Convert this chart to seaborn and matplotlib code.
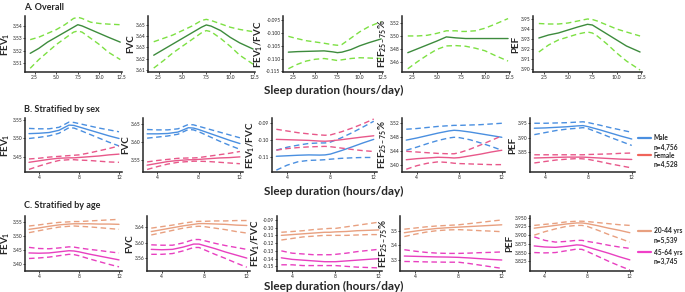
import numpy as np
import pandas as pd
import seaborn as sns
from matplotlib import pyplot as plt

# sleep duration grids (hours/day)
SLEEP_A = [2, 3, 4, 5, 6, 7, 7.5, 8, 9, 10, 11, 12.4]
SLEEP_BC = [3, 4, 5, 6, 7, 7.5, 8, 9, 10, 11, 12]

# ---- A. Overall : [mean, lower, upper]
A_FEV1 = [[3.518, 3.522, 3.527, 3.531, 3.535, 3.539, 3.541, 3.540, 3.537, 3.534, 3.531, 3.527],
          [3.506, 3.513, 3.519, 3.525, 3.530, 3.535, 3.536, 3.535, 3.530, 3.525, 3.519, 3.513],
          [3.529, 3.531, 3.534, 3.537, 3.541, 3.546, 3.547, 3.546, 3.543, 3.542, 3.5415, 3.541]]
A_FVC = [[3.623, 3.628, 3.633, 3.638, 3.643, 3.648, 3.650, 3.649, 3.645, 3.639, 3.634, 3.6285],
         [3.6115, 3.618, 3.625, 3.631, 3.637, 3.643, 3.645, 3.644, 3.638, 3.631, 3.623, 3.615],
         [3.635, 3.638, 3.641, 3.645, 3.649, 3.654, 3.655, 3.654, 3.651, 3.648, 3.646, 3.644]]
A_RATIO = [[-0.1075, -0.1073, -0.1072, -0.1071, -0.1070, -0.1074, -0.1077, -0.1075, -0.1065, -0.1050, -0.1038, -0.1023],
           [-0.1140, -0.1123, -0.1110, -0.1103, -0.1100, -0.1105, -0.1108, -0.1105, -0.1100, -0.1097, -0.1098, -0.1100],
           [-0.1013, -0.1022, -0.1030, -0.1035, -0.1040, -0.1046, -0.1048, -0.1045, -0.1020, -0.0995, -0.0975, -0.0955]]
A_FEF = [[3.474, 3.480, 3.486, 3.492, 3.4985, 3.497, 3.4965, 3.496, 3.496, 3.496, 3.496, 3.496],
         [3.449, 3.460, 3.470, 3.479, 3.4845, 3.485, 3.4845, 3.484, 3.481, 3.477, 3.470, 3.461],
         [3.500, 3.500, 3.501, 3.504, 3.508, 3.508, 3.507, 3.507, 3.508, 3.512, 3.518, 3.527]]
A_PEF = [[3.931, 3.934, 3.936, 3.939, 3.942, 3.9447, 3.944, 3.941, 3.935, 3.929, 3.923, 3.917],
         [3.917, 3.924, 3.929, 3.932, 3.935, 3.937, 3.936, 3.933, 3.925, 3.916, 3.908, 3.899],
         [3.9455, 3.945, 3.945, 3.946, 3.948, 3.950, 3.9495, 3.948, 3.944, 3.940, 3.937, 3.933]]

# ---- B. Stratified by sex
MALE_FEV1 = [[3.513, 3.514, 3.516, 3.522, 3.536, 3.535, 3.531, 3.523, 3.515, 3.507, 3.500],
             [3.500, 3.503, 3.507, 3.514, 3.529, 3.528, 3.523, 3.512, 3.501, 3.490, 3.480],
             [3.527, 3.526, 3.526, 3.530, 3.544, 3.543, 3.540, 3.534, 3.528, 3.523, 3.518]]
FEMALE_FEV1 = [[3.436, 3.440, 3.444, 3.447, 3.448, 3.448, 3.449, 3.451, 3.453, 3.456, 3.458],
               [3.417, 3.426, 3.434, 3.441, 3.443, 3.443, 3.442, 3.441, 3.439, 3.437, 3.436],
               [3.445, 3.447, 3.450, 3.452, 3.454, 3.455, 3.456, 3.461, 3.467, 3.473, 3.480]]
MALE_FVC = [[3.624, 3.624, 3.625, 3.629, 3.641, 3.640, 3.636, 3.626, 3.616, 3.606, 3.597],
            [3.612, 3.615, 3.618, 3.623, 3.636, 3.635, 3.630, 3.617, 3.604, 3.592, 3.581],
            [3.636, 3.635, 3.635, 3.638, 3.650, 3.649, 3.645, 3.637, 3.629, 3.621, 3.613]]
FEMALE_FVC = [[3.537, 3.542, 3.547, 3.550, 3.552, 3.552, 3.553, 3.555, 3.557, 3.558, 3.560],
              [3.525, 3.533, 3.540, 3.545, 3.547, 3.548, 3.548, 3.547, 3.545, 3.543, 3.541],
              [3.546, 3.550, 3.553, 3.556, 3.557, 3.557, 3.558, 3.562, 3.566, 3.570, 3.575]]
MALE_RATIO = [[-0.1093, -0.1090, -0.1087, -0.1085, -0.1086, -0.1085, -0.1080, -0.1060, -0.1038, -0.1015, -0.0994],
              [-0.1174, -0.1145, -0.1125, -0.1117, -0.1115, -0.1113, -0.1110, -0.1105, -0.1102, -0.1100, -0.1100],
              [-0.1057, -0.1040, -0.1028, -0.1018, -0.1015, -0.1015, -0.1010, -0.0985, -0.0955, -0.0922, -0.0888]]
FEMALE_RATIO = [[-0.0994, -0.0996, -0.0998, -0.1000, -0.1004, -0.1005, -0.1003, -0.0996, -0.0988, -0.0980, -0.0973],
                [-0.1057, -0.1048, -0.1042, -0.1038, -0.1036, -0.1035, -0.1037, -0.1045, -0.1053, -0.1060, -0.1065],
                [-0.0935, -0.0945, -0.0955, -0.0962, -0.0968, -0.0970, -0.0968, -0.0950, -0.0928, -0.0903, -0.0875]]
MALE_FEF = [[3.472, 3.478, 3.485, 3.492, 3.498, 3.500, 3.499, 3.495, 3.490, 3.485, 3.480],
            [3.443, 3.452, 3.462, 3.471, 3.478, 3.480, 3.479, 3.473, 3.464, 3.454, 3.443],
            [3.503, 3.505, 3.508, 3.511, 3.513, 3.514, 3.514, 3.515, 3.516, 3.518, 3.520]]
FEMALE_FEF = [[3.416, 3.419, 3.421, 3.423, 3.422, 3.421, 3.422, 3.427, 3.432, 3.438, 3.443],
              [3.389, 3.399, 3.406, 3.410, 3.408, 3.406, 3.405, 3.404, 3.403, 3.402, 3.402],
              [3.440, 3.438, 3.436, 3.434, 3.433, 3.433, 3.436, 3.446, 3.458, 3.471, 3.484]]
MALE_PEF = [[3.933, 3.934, 3.936, 3.938, 3.941, 3.942, 3.938, 3.928, 3.917, 3.906, 3.896],
            [3.911, 3.918, 3.925, 3.930, 3.933, 3.935, 3.931, 3.917, 3.902, 3.888, 3.874],
            [3.950, 3.950, 3.951, 3.952, 3.954, 3.955, 3.952, 3.944, 3.935, 3.927, 3.919]]
FEMALE_PEF = [[3.831, 3.832, 3.833, 3.834, 3.834, 3.834, 3.833, 3.831, 3.829, 3.827, 3.826],
              [3.814, 3.819, 3.824, 3.827, 3.829, 3.828, 3.826, 3.819, 3.811, 3.804, 3.797],
              [3.842, 3.842, 3.842, 3.842, 3.842, 3.842, 3.843, 3.844, 3.845, 3.847, 3.848]]

# ---- C. Stratified by age
YOUNG_FEV1 = [[3.525, 3.530, 3.536, 3.541, 3.544, 3.545, 3.545, 3.545, 3.544, 3.544, 3.543],
              [3.513, 3.520, 3.527, 3.533, 3.536, 3.537, 3.536, 3.534, 3.531, 3.528, 3.525],
              [3.537, 3.541, 3.546, 3.550, 3.552, 3.553, 3.553, 3.555, 3.557, 3.559, 3.561]]
OLD_FEV1 = [[3.440, 3.439, 3.440, 3.444, 3.448, 3.447, 3.444, 3.436, 3.429, 3.422, 3.415],
            [3.420, 3.422, 3.425, 3.430, 3.435, 3.434, 3.430, 3.419, 3.409, 3.399, 3.390],
            [3.460, 3.456, 3.455, 3.458, 3.462, 3.461, 3.458, 3.453, 3.449, 3.444, 3.440]]
YOUNG_FVC = [[3.629, 3.634, 3.639, 3.644, 3.648, 3.650, 3.650, 3.649, 3.648, 3.646, 3.645],
             [3.620, 3.626, 3.632, 3.638, 3.642, 3.643, 3.642, 3.638, 3.634, 3.629, 3.625],
             [3.638, 3.642, 3.646, 3.651, 3.655, 3.656, 3.656, 3.657, 3.657, 3.658, 3.658]]
OLD_FVC = [[3.582, 3.581, 3.582, 3.588, 3.596, 3.596, 3.592, 3.584, 3.575, 3.567, 3.559],
           [3.569, 3.569, 3.571, 3.578, 3.587, 3.587, 3.581, 3.569, 3.558, 3.546, 3.535],
           [3.594, 3.593, 3.593, 3.599, 3.608, 3.608, 3.605, 3.598, 3.592, 3.587, 3.582]]
YOUNG_RATIO = [[-0.110, -0.109, -0.108, -0.107, -0.106, -0.106, -0.1055, -0.105, -0.104, -0.1035, -0.103],
               [-0.116, -0.114, -0.112, -0.111, -0.110, -0.110, -0.110, -0.110, -0.1095, -0.109, -0.109],
               [-0.106, -0.105, -0.104, -0.1025, -0.1015, -0.101, -0.101, -0.099, -0.097, -0.095, -0.093]]
OLD_RATIO = [[-0.139, -0.141, -0.142, -0.143, -0.144, -0.144, -0.144, -0.143, -0.142, -0.141, -0.140],
             [-0.148, -0.148, -0.149, -0.149, -0.149, -0.149, -0.149, -0.150, -0.151, -0.1515, -0.152],
             [-0.130, -0.133, -0.134, -0.135, -0.135, -0.135, -0.1345, -0.133, -0.131, -0.1295, -0.128]]
YOUNG_FEF = [[3.486, 3.497, 3.507, 3.515, 3.520, 3.522, 3.524, 3.528, 3.532, 3.536, 3.540],
             [3.460, 3.476, 3.490, 3.500, 3.505, 3.506, 3.507, 3.504, 3.500, 3.497, 3.493],
             [3.510, 3.518, 3.526, 3.532, 3.536, 3.538, 3.540, 3.548, 3.556, 3.565, 3.573]]
OLD_FEF = [[3.327, 3.325, 3.323, 3.321, 3.320, 3.319, 3.318, 3.314, 3.309, 3.304, 3.300],
           [3.290, 3.289, 3.287, 3.286, 3.285, 3.285, 3.285, 3.276, 3.265, 3.254, 3.243],
           [3.370, 3.360, 3.352, 3.347, 3.345, 3.345, 3.345, 3.347, 3.350, 3.352, 3.355]]
YOUNG_PEF = [[3.920, 3.924, 3.928, 3.932, 3.935, 3.935, 3.933, 3.927, 3.920, 3.914, 3.907],
             [3.900, 3.910, 3.918, 3.925, 3.928, 3.928, 3.925, 3.914, 3.902, 3.891, 3.880],
             [3.928, 3.931, 3.934, 3.938, 3.940, 3.940, 3.939, 3.936, 3.933, 3.930, 3.928]]
OLD_PEF = [[3.869, 3.866, 3.865, 3.868, 3.872, 3.871, 3.866, 3.857, 3.848, 3.838, 3.829],
           [3.850, 3.849, 3.850, 3.855, 3.860, 3.859, 3.853, 3.839, 3.825, 3.812, 3.800],
           [3.895, 3.885, 3.880, 3.882, 3.885, 3.885, 3.882, 3.877, 3.871, 3.866, 3.862]]

YLABELS = ["FEV$_1$", "FVC", "FEV$_1$/FVC", "FEF$_{25-75}$%", "PEF"]

# y ticks (values, decimals) per row
TICKS_A = [([3.51, 3.52, 3.53, 3.54], 2), ([3.61, 3.62, 3.63, 3.64, 3.65], 2),
           ([-0.115, -0.110, -0.105, -0.100, -0.095], 3), ([3.46, 3.48, 3.50, 3.52], 2),
           ([3.90, 3.91, 3.92, 3.93, 3.94, 3.95], 2)]
TICKS_B = [([3.45, 3.50, 3.55], 2), ([3.55, 3.60, 3.65], 2), ([-0.11, -0.10, -0.09], 2),
           ([3.40, 3.44, 3.48, 3.52], 2), ([3.85, 3.90, 3.95], 2)]
TICKS_C = [([3.40, 3.45, 3.50, 3.55], 2), ([3.56, 3.60, 3.64], 2),
           ([-0.15, -0.14, -0.13, -0.12, -0.11, -0.10, -0.09], 2), ([3.3, 3.4, 3.5], 1),
           ([3.825, 3.850, 3.875, 3.900, 3.925, 3.950], 3)]

YLIM_A = [(3.503, 3.548), (3.608, 3.658), (-0.1153, -0.0933), (3.444, 3.531), (3.897, 3.953)]
YLIM_B = [(3.41, 3.555), (3.518, 3.668), (-0.1185, -0.0869), (3.381, 3.535), (3.783, 3.968)]
YLIM_C = [(3.375, 3.573), (3.525, 3.67), (-0.156, -0.085), (3.225, 3.60), (3.797, 3.955)]

sns.set_style("ticks")
plt.rcParams['font.family'] = ['Lato', 'DejaVu Sans']
plt.rcParams['axes.unicode_minus'] = False
plt.rcParams['mathtext.fontset'] = 'custom'
plt.rcParams['mathtext.rm'] = 'Lato:bold'
plt.rcParams['mathtext.it'] = 'Lato:bold'

W, H = 685, 292
fig = plt.figure(figsize=(W / 100, H / 100), dpi=100)


def px_axes(x0, x1, top, bottom):
    return fig.add_axes([x0 / W, 1 - bottom / H, (x1 - x0) / W, (bottom - top) / H])


def curve(ax, x, band, color, ci_color=None):
    ci_color = ci_color or color
    df = pd.DataFrame({"x": x, "mean": band[0], "lo": band[1], "hi": band[2]})
    sns.lineplot(data=df, x="x", y="mean", ax=ax, color=color, lw=1.0)
    sns.lineplot(data=df, x="x", y="lo", ax=ax, color=ci_color, lw=1.0).lines[-1].set_dashes((4, 2.5))
    sns.lineplot(data=df, x="x", y="hi", ax=ax, color=ci_color, lw=1.0).lines[-1].set_dashes((4, 2.5))


def style(ax, label, ticks, ylim, xticks, xlim):
    vals, dec = ticks
    ax.set_yticks(vals)
    ax.set_yticklabels([f"{v:.{dec}f}" for v in vals])
    ax.set_ylim(*ylim)
    ax.set_xticks(xticks)
    ax.set_xticklabels([str(t) for t in xticks] if isinstance(xticks[0], int) else [f"{t:.1f}" for t in xticks])
    ax.set_xlim(*xlim)
    ax.set_xlabel("")
    ax.set_ylabel(label, fontsize=7, fontweight="bold", labelpad=0.5)
    ax.tick_params(labelsize=3.5, length=1.3, width=0.6, pad=0.6)
    for s in ["left", "bottom"]:
        ax.spines[s].set_linewidth(1.1)
    sns.despine(ax=ax)


POS_A = [(25, 122), (148, 255), (283, 383), (402, 510), (533, 642)]
POS_B = [(25, 122), (143, 243), (272, 377), (402, 505), (530, 635)]
POS_C = [(25, 122), (147, 250), (277, 382), (400, 505), (530, 633)]

# row A
for i, band in enumerate([A_FEV1, A_FVC, A_RATIO, A_FEF, A_PEF]):
    ax = px_axes(POS_A[i][0], POS_A[i][1], 16, 72)
    curve(ax, SLEEP_A, band, "#3d8b3d", "#7de043")
    style(ax, YLABELS[i], TICKS_A[i], YLIM_A[i], [2.5, 5.0, 7.5, 10.0, 12.5], (1.4, 12.6))

# row B
for i, (m, f) in enumerate([(MALE_FEV1, FEMALE_FEV1), (MALE_FVC, FEMALE_FVC), (MALE_RATIO, FEMALE_RATIO),
                            (MALE_FEF, FEMALE_FEF), (MALE_PEF, FEMALE_PEF)]):
    ax = px_axes(POS_B[i][0], POS_B[i][1], 118, 172)
    curve(ax, SLEEP_BC, m, "#4a8fe0")
    curve(ax, SLEEP_BC, f, "#e8588a")
    style(ax, YLABELS[i], TICKS_B[i], YLIM_B[i], [4, 8, 12], (2.6, 12.3))

# row C
for i, (y, o) in enumerate([(YOUNG_FEV1, OLD_FEV1), (YOUNG_FVC, OLD_FVC), (YOUNG_RATIO, OLD_RATIO),
                            (YOUNG_FEF, OLD_FEF), (YOUNG_PEF, OLD_PEF)]):
    ax = px_axes(POS_C[i][0], POS_C[i][1], 216, 271)
    curve(ax, SLEEP_BC, y, "#e8a080")
    curve(ax, SLEEP_BC, o, "#e840c0")
    style(ax, YLABELS[i], TICKS_C[i], YLIM_C[i], [4, 8, 12], (2.6, 12.3))

# titles and shared x labels
for txt, y in [("A. Overall", 7), ("B. Stratified by sex", 110), ("C. Stratified by age", 206)]:
    fig.text(24 / W, 1 - y / H, txt, fontsize=6.5, fontweight="bold", va="center")
for y in [90, 191, 286]:
    fig.text(334 / W, 1 - y / H, "Sleep duration (hours/day)", fontsize=8.5, fontweight="bold",
             ha="center", va="center")

# legends
LEG_B = [("Male", "n=4,756", "#4a8fe0", 138), ("Female", "n=4,528", "#f0645a", 155)]
LEG_C = [("20-44 yrs", "n=5,539", "#e8a080", 231), ("45-64 yrs", "n=3,745", "#f040c8", 252)]
for name, n, col, y in LEG_B + LEG_C:
    fig.add_artist(plt.Line2D([638 / W, 651 / W], [1 - y / H, 1 - y / H], color=col, lw=1.6))
    fig.text(654 / W, 1 - y / H, name, fontsize=4.8, fontweight="bold", va="center")
    fig.text(654 / W, 1 - (y + 9) / H, n, fontsize=4.8, fontweight="bold", va="center")

fig.savefig("out.png", dpi=100)
